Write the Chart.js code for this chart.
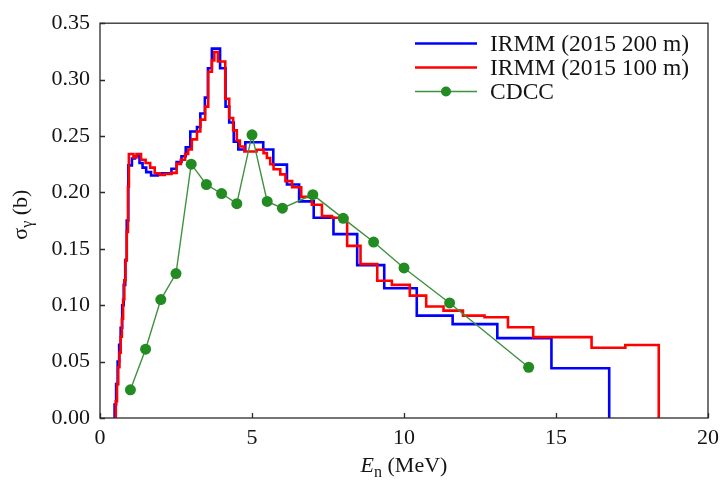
<!DOCTYPE html>
<html>
<head>
<meta charset="utf-8">
<script src="https://cdn.jsdelivr.net/npm/chart.js@4.4.1/dist/chart.umd.min.js"></script>
<style>
  body { margin: 0; background: #fff; }
  #wrap { width: 722px; height: 481px; }
</style>
</head>
<body>
<div id="wrap"><canvas id="sigmaChart" width="722" height="481"></canvas></div>
<script>
// IRMM 2015, 200 m flight path: bin edges (MeV) and capture cross section (b)
const irmm200Edges = [0.48, 0.53, 0.58, 0.63, 0.68, 0.73, 0.78, 0.83, 0.88, 0.93, 1.05, 1.15, 1.30, 1.40,
  1.52, 1.68, 1.90, 2.35, 2.52, 2.68, 2.82, 2.97, 3.19, 3.30, 3.45, 3.55, 3.68, 3.95, 4.13, 4.25,
  4.40, 4.55, 4.78, 5.37, 5.70, 6.15, 6.55, 7.03, 7.68, 8.46, 9.35, 10.42, 11.60, 13.07, 14.85, 16.75];
const irmm200Sigma = [0.012, 0.030, 0.050, 0.065, 0.080, 0.100, 0.118, 0.140, 0.175, 0.224, 0.230, 0.232, 0.226,
  0.222, 0.218, 0.215, 0.217, 0.221, 0.227, 0.232, 0.240, 0.254, 0.258, 0.270, 0.284, 0.310, 0.3275, 0.310,
  0.276, 0.262, 0.245, 0.238, 0.2445, 0.238, 0.2246, 0.207, 0.192, 0.1775, 0.163, 0.1355, 0.115, 0.0908,
  0.0832, 0.0708, 0.0441];

// IRMM 2015, 100 m flight path
const irmm100Edges = [0.52, 0.56, 0.60, 0.64, 0.68, 0.72, 0.76, 0.80, 0.84, 0.88, 0.92, 0.95, 1.10, 1.20,
  1.35, 1.50, 1.65, 1.80, 1.97, 2.13, 2.35, 2.52, 2.66, 2.80, 2.90, 3.02, 3.19, 3.30, 3.46, 3.56, 3.68,
  3.76, 3.88, 4.12, 4.25, 4.38, 4.50, 4.60, 4.75, 5.15, 5.38, 5.49, 5.60, 5.71, 5.93, 6.10, 6.32, 6.62,
  6.97, 7.30, 7.63, 8.13, 8.57, 9.12, 9.60, 10.19, 10.73, 11.30, 11.94, 12.65, 13.42, 14.25, 16.17,
  17.28, 18.38];
const irmm100Sigma = [0.015, 0.030, 0.045, 0.058, 0.072, 0.088, 0.105, 0.122, 0.140, 0.165, 0.205, 0.234,
  0.231, 0.234, 0.229, 0.226, 0.222, 0.217, 0.2155, 0.2163, 0.2173, 0.2253, 0.229, 0.234, 0.238, 0.247,
  0.254, 0.2645, 0.276, 0.307, 0.317, 0.3245, 0.316, 0.283, 0.266, 0.255, 0.246, 0.2407, 0.2363, 0.2378,
  0.2348, 0.2305, 0.225, 0.2205, 0.216, 0.210, 0.2046, 0.196, 0.189, 0.179, 0.1775, 0.1526, 0.1364,
  0.1217, 0.118, 0.1085, 0.0988, 0.0952, 0.0908, 0.0893, 0.0805, 0.0717, 0.0623, 0.0647];

// CDCC calculation
const cdccEnergy = [1.0, 1.5, 2.0, 2.5, 3.0, 3.5, 4.0, 4.5, 5.0, 5.5, 6.0, 7.0, 8.0, 9.0, 10.0, 11.5, 14.1];
const cdccSigma = [0.025, 0.061, 0.105, 0.128, 0.225, 0.207, 0.199, 0.190, 0.251, 0.192, 0.186, 0.198,
  0.177, 0.156, 0.133, 0.102, 0.045];

const xTicks = [0, 5, 10, 15, 20];
const yTicks = [0, 0.05, 0.10, 0.15, 0.20, 0.25, 0.30, 0.35];

const serif = '"Liberation Serif", "Times New Roman", serif';
const textColor = '#141414';

// histogram outline: rise from zero at the first edge, drop back to zero at the last
function stepPoints(edges, sigma) {
  const pts = [{ x: edges[0], y: 0 }];
  sigma.forEach((s, i) => pts.push({ x: edges[i], y: s }));
  const end = edges[edges.length - 1];
  pts.push({ x: end, y: sigma[sigma.length - 1] });
  pts.push({ x: end, y: 0 });
  return pts;
}

// draws a run of text pieces, some italic or subscripted
function drawPieces(ctx, pieces, size, x, y) {
  const fontFor = p => (p.italic ? 'italic ' : '') + Math.round(p.sub ? size * 0.72 : size) + 'px ' + serif;
  let total = 0;
  pieces.forEach(p => { ctx.font = fontFor(p); total += ctx.measureText(p.t).width; });
  let cx = x - total / 2;
  pieces.forEach(p => {
    ctx.font = fontFor(p);
    ctx.fillText(p.t, cx, p.sub ? y + size * 0.22 : y);
    cx += ctx.measureText(p.t).width;
  });
}

const framePlugin = {
  id: 'frame',
  afterDraw(chart) {
    const { ctx, chartArea: a, scales } = chart;
    ctx.save();
    ctx.strokeStyle = '#2b2b2b';
    ctx.lineWidth = 1.3;
    ctx.strokeRect(a.left, a.top, a.right - a.left, a.bottom - a.top);
    ctx.beginPath();
    scales.x.ticks.forEach(t => {
      const px = Math.round(scales.x.getPixelForValue(t.value)) + 0.5;
      ctx.moveTo(px, a.bottom);
      ctx.lineTo(px, a.bottom - 5);
    });
    scales.y.ticks.forEach(t => {
      const py = Math.round(scales.y.getPixelForValue(t.value)) + 0.5;
      ctx.moveTo(a.left, py);
      ctx.lineTo(a.left + 5, py);
    });
    ctx.stroke();

    // axis titles
    ctx.fillStyle = textColor;
    ctx.textBaseline = 'alphabetic';
    ctx.textAlign = 'left';
    drawPieces(ctx, [{ t: 'E', italic: true }, { t: 'n', sub: true }, { t: ' (MeV)' }], 22,
      (a.left + a.right) / 2, 472);
    ctx.translate(27, (a.top + a.bottom) / 2 - 6);
    ctx.rotate(-Math.PI / 2);
    drawPieces(ctx, [{ t: 'σ' }, { t: 'γ', sub: true }, { t: ' (b)' }], 22, 0, 0);
    ctx.restore();
  }
};

const legendPlugin = {
  id: 'cornerLegend',
  afterDraw(chart) {
    const { ctx } = chart;
    const rows = [43.5, 67.5, 91.5];
    ctx.save();
    chart.data.datasets.forEach((ds, i) => {
      const y = rows[i];
      ctx.strokeStyle = ds.borderColor;
      ctx.lineWidth = ds.borderWidth;
      ctx.beginPath();
      ctx.moveTo(415, y);
      ctx.lineTo(477, y);
      ctx.stroke();
      if (ds.pointRadius > 0) {
        ctx.fillStyle = ds.pointBackgroundColor;
        ctx.beginPath();
        ctx.arc(446, y, ds.pointRadius - 0.5, 0, Math.PI * 2);
        ctx.fill();
      }
      ctx.fillStyle = textColor;
      ctx.font = '23.5px ' + serif;
      ctx.textBaseline = 'middle';
      ctx.fillText(ds.label, 490, y + 1);
    });
    ctx.restore();
  }
};

new Chart(document.getElementById('sigmaChart'), {
  type: 'line',
  data: {
    datasets: [
      {
        label: 'IRMM (2015 200 m)',
        data: stepPoints(irmm200Edges, irmm200Sigma),
        borderColor: '#0000ff',
        borderWidth: 2.6,
        stepped: 'before',
        pointRadius: 0,
        fill: false,
        order: 3
      },
      {
        label: 'IRMM (2015 100 m)',
        data: stepPoints(irmm100Edges, irmm100Sigma),
        borderColor: '#ff0000',
        borderWidth: 2.6,
        stepped: 'before',
        pointRadius: 0,
        fill: false,
        order: 2
      },
      {
        label: 'CDCC',
        data: cdccEnergy.map((e, i) => ({ x: e, y: cdccSigma[i] })),
        borderColor: '#3f913f',
        borderWidth: 1.4,
        pointRadius: 5.5,
        pointBackgroundColor: '#228b22',
        pointBorderColor: '#228b22',
        pointBorderWidth: 0,
        fill: false,
        order: 1
      }
    ]
  },
  options: {
    responsive: false,
    animation: false,
    layout: { padding: { top: 20, right: 14, left: 0, bottom: 0 } },
    plugins: {
      legend: { display: false },
      tooltip: { enabled: false }
    },
    scales: {
      x: {
        type: 'linear',
        min: 0,
        max: 20,
        afterBuildTicks: s => { s.ticks = xTicks.map(v => ({ value: v })); },
        afterFit: s => { s.height = 63; s.paddingRight = 0; s.paddingLeft = 0; },
        grid: { display: false, drawTicks: false },
        border: { display: false },
        ticks: { padding: 7, color: textColor, font: { family: serif, size: 22 }, maxRotation: 0 }
      },
      y: {
        type: 'linear',
        min: 0,
        max: 0.35,
        afterBuildTicks: s => { s.ticks = yTicks.map(v => ({ value: v })); },
        afterFit: s => { s.width = 100; },
        grid: { display: false, drawTicks: false },
        border: { display: false },
        ticks: {
          padding: 10,
          color: textColor,
          font: { family: serif, size: 22 },
          callback: v => v.toFixed(2)
        }
      }
    }
  },
  plugins: [framePlugin, legendPlugin]
});
</script>
</body>
</html>
